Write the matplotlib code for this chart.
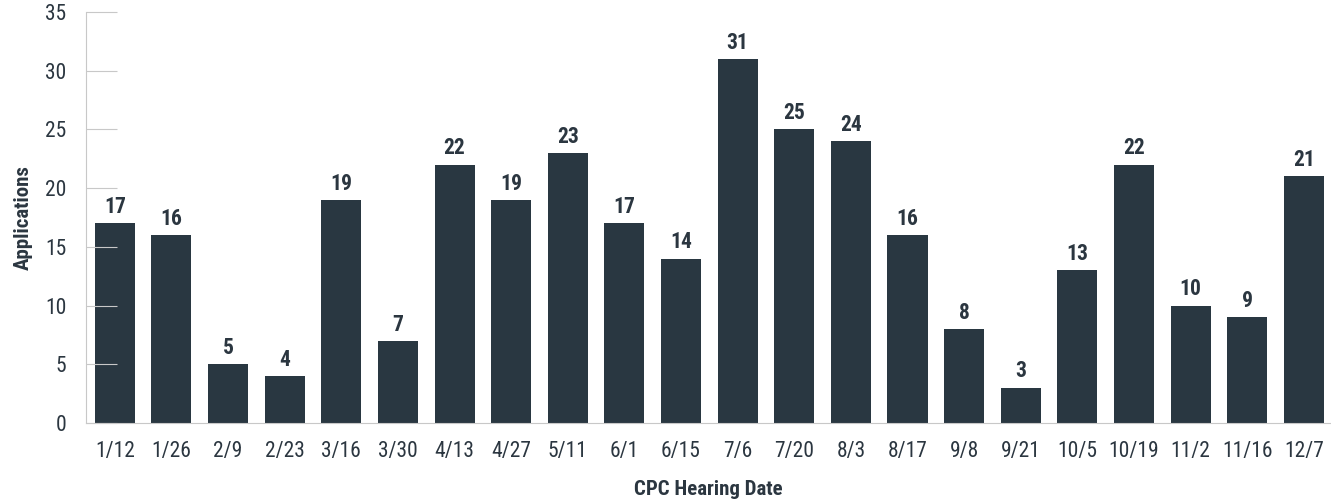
import matplotlib.pyplot as plt
from matplotlib import font_manager

dates = ['1/12', '1/26', '2/9', '2/23', '3/16', '3/30', '4/13', '4/27', '5/11', '6/1', '6/15',
         '7/6', '7/20', '8/3', '8/17', '9/8', '9/21', '10/5', '10/19', '11/2', '11/16', '12/7']
applications = [17, 16, 5, 4, 19, 7, 22, 19, 23, 17, 14, 31, 25, 24, 16, 8, 3, 13, 22, 10, 9, 21]
y_ticks = [0, 5, 10, 15, 20, 25, 30, 35]

# condensed font if one is around, else a plain sans
names = {f.name for f in font_manager.fontManager.ttflist}
candidates = ['Liberation Sans Narrow', 'Roboto Condensed', 'Noto Sans Condensed',
              'Open Sans Condensed', 'Liberation Sans', 'Roboto']
font = next((c for c in candidates if c in names), 'DejaVu Sans')
narrow = 'Narrow' in font or 'Condensed' in font
size = 15 if narrow else 13
plt.rcParams['font.family'] = [font, 'DejaVu Sans']

bar_color = '#293741'
text_color = '#2b3640'
line_color = '#c8c8c8'

fig = plt.figure(figsize=(13.31, 5.0), dpi=100)
ax = fig.add_axes([0.0646, 0.154, 0.9354, 0.822])

x = range(len(dates))
ax.bar(x, applications, width=0.707, color=bar_color)
for xi, v in zip(x, applications):
    ax.text(xi, v + 0.45, str(v), ha='center', va='bottom', fontsize=size + 0.5,
            fontweight='bold', color=text_color)

ax.set_xlim(-0.51, 21.48)
ax.set_ylim(0, 35)
ax.set_yticks(y_ticks)
ax.set_xticks(list(x))
ax.set_xticklabels(dates)

for s in ['top', 'right']:
    ax.spines[s].set_visible(False)
ax.spines['left'].set_color(line_color)
ax.spines['bottom'].set_color(line_color)

ax.tick_params(axis='y', direction='in', length=22, color=line_color, labelsize=size + 0.5,
               labelcolor=text_color, pad=14)
ax.tick_params(axis='x', length=0, labelsize=size + 0.5, labelcolor=text_color, pad=13)

ax.set_xlabel('CPC Hearing Date', fontsize=size, fontweight='bold', color=text_color, labelpad=13)
ax.set_ylabel('Applications', fontsize=size, fontweight='bold', color=text_color)
ax.yaxis.set_label_coords(-0.043, 0.5)

fig.savefig('out.png', dpi=100)
